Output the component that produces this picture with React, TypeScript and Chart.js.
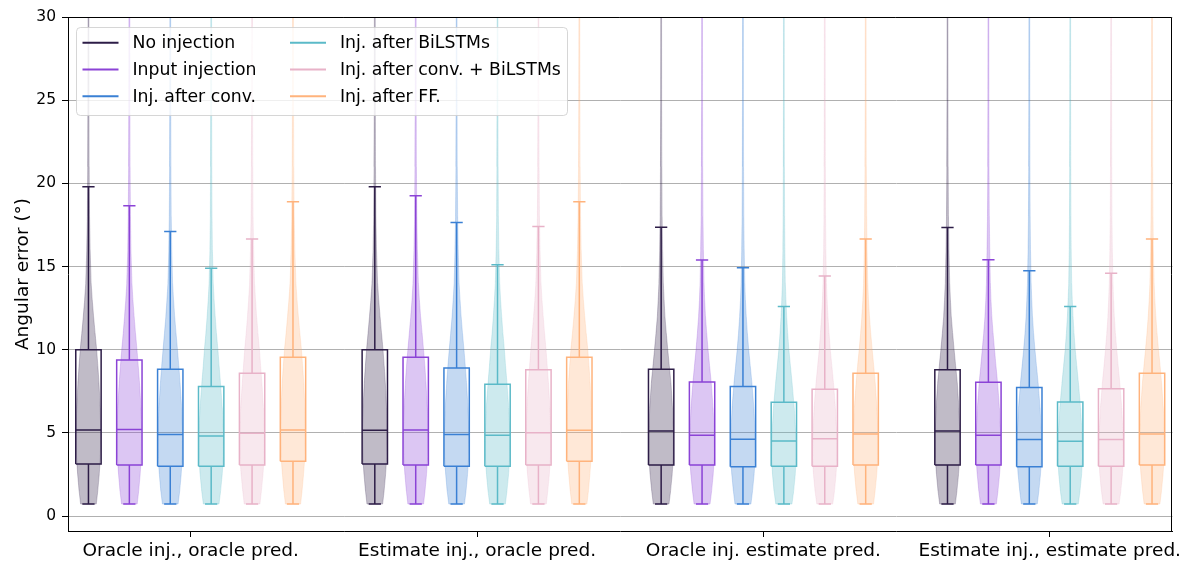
import React, { useEffect, useRef } from "react";
import { Chart, registerables } from "chart.js";

Chart.register(...registerables);

// ---------- data ----------
const GROUP_LABELS = [
  "Oracle inj., oracle pred.",
  "Estimate inj., oracle pred.",
  "Oracle inj. estimate pred.",
  "Estimate inj., estimate pred.",
];

const SERIES_NAMES = [
  "No injection",
  "Input injection",
  "Inj. after conv.",
  "Inj. after BiLSTMs",
  "Inj. after conv. + BiLSTMs",
  "Inj. after FF.",
];

const SERIES_COLORS = ["#2d1d47", "#8b43d6", "#3a80d4", "#5bbac8", "#e8b2c8", "#ffb37c"];

// per series, one value per group
const WHISKER_LOW = [
  [0.72, 0.72, 0.72, 0.72],
  [0.72, 0.72, 0.72, 0.72],
  [0.72, 0.72, 0.72, 0.72],
  [0.72, 0.72, 0.72, 0.72],
  [0.72, 0.72, 0.72, 0.72],
  [0.72, 0.72, 0.72, 0.72],
];
const Q1 = [
  [3.13, 3.13, 3.07, 3.07],
  [3.07, 3.07, 3.07, 3.07],
  [3.0, 3.0, 2.97, 2.97],
  [3.0, 3.0, 3.0, 3.0],
  [3.07, 3.07, 3.0, 3.0],
  [3.29, 3.29, 3.07, 3.07],
];
const MEDIAN = [
  [5.17, 5.15, 5.11, 5.11],
  [5.2, 5.17, 4.85, 4.85],
  [4.9, 4.9, 4.61, 4.6],
  [4.81, 4.85, 4.51, 4.5],
  [4.97, 5.0, 4.65, 4.6],
  [5.17, 5.15, 4.93, 4.93],
];
const Q3 = [
  [10.0, 10.0, 8.82, 8.8],
  [9.38, 9.55, 8.06, 8.04],
  [8.82, 8.9, 7.78, 7.73],
  [7.78, 7.92, 6.84, 6.85],
  [8.58, 8.8, 7.62, 7.65],
  [9.54, 9.55, 8.58, 8.58],
];
const WHISKER_HIGH = [
  [19.8, 19.8, 17.36, 17.35],
  [18.66, 19.25, 15.39, 15.4],
  [17.1, 17.65, 14.93, 14.75],
  [14.9, 15.1, 12.59, 12.6],
  [16.66, 17.4, 14.43, 14.6],
  [18.9, 18.9, 16.66, 16.66],
];

// violin density (relative width) at these error levels
const DENSITY_LEVELS = [0.72, 1.5, 2.5, 3.5, 5, 6.5, 8, 9, 10, 11, 12, 13, 14, 16, 18, 21, 25, 35];

const DENSITY_ORACLE_ORACLE = [
  [0.64, 0.76, 0.88, 0.97, 1.0, 0.96, 0.86, 0.77, 0.67, 0.54, 0.42, 0.31, 0.22, 0.14, 0.09, 0.06, 0.045, 0.03],
  [0.64, 0.76, 0.88, 0.97, 1.0, 0.95, 0.83, 0.73, 0.62, 0.5, 0.39, 0.29, 0.21, 0.13, 0.09, 0.06, 0.045, 0.03],
  [0.64, 0.77, 0.89, 0.98, 1.0, 0.93, 0.8, 0.7, 0.59, 0.47, 0.36, 0.27, 0.19, 0.12, 0.08, 0.055, 0.04, 0.03],
  [0.64, 0.77, 0.9, 0.99, 1.0, 0.91, 0.76, 0.65, 0.55, 0.43, 0.33, 0.24, 0.17, 0.1, 0.07, 0.05, 0.04, 0.03],
  [0.64, 0.76, 0.89, 0.98, 1.0, 0.93, 0.8, 0.7, 0.6, 0.48, 0.37, 0.28, 0.2, 0.13, 0.08, 0.055, 0.04, 0.03],
  [0.62, 0.74, 0.86, 0.96, 1.0, 0.97, 0.88, 0.79, 0.69, 0.56, 0.44, 0.33, 0.24, 0.15, 0.1, 0.065, 0.045, 0.03],
];
const DENSITY_ESTIMATE_ORACLE = [
  [0.64, 0.76, 0.88, 0.97, 1.0, 0.96, 0.86, 0.77, 0.67, 0.55, 0.43, 0.32, 0.23, 0.14, 0.09, 0.06, 0.045, 0.03],
  [0.64, 0.76, 0.88, 0.97, 1.0, 0.95, 0.84, 0.75, 0.64, 0.52, 0.4, 0.3, 0.22, 0.14, 0.09, 0.06, 0.045, 0.03],
  [0.64, 0.77, 0.89, 0.98, 1.0, 0.93, 0.81, 0.71, 0.6, 0.48, 0.37, 0.28, 0.2, 0.13, 0.085, 0.055, 0.04, 0.03],
  [0.64, 0.77, 0.9, 0.99, 1.0, 0.92, 0.77, 0.66, 0.56, 0.44, 0.34, 0.25, 0.18, 0.11, 0.07, 0.05, 0.04, 0.03],
  [0.64, 0.76, 0.89, 0.98, 1.0, 0.94, 0.82, 0.72, 0.62, 0.5, 0.39, 0.29, 0.21, 0.13, 0.085, 0.055, 0.04, 0.03],
  [0.62, 0.74, 0.86, 0.96, 1.0, 0.97, 0.88, 0.79, 0.69, 0.56, 0.44, 0.33, 0.24, 0.15, 0.1, 0.065, 0.045, 0.03],
];
const DENSITY_ORACLE_ESTIMATE = [
  [0.64, 0.77, 0.9, 0.99, 1.0, 0.93, 0.8, 0.67, 0.54, 0.42, 0.31, 0.24, 0.18, 0.12, 0.08, 0.055, 0.04, 0.03],
  [0.65, 0.78, 0.91, 1.0, 0.99, 0.9, 0.75, 0.62, 0.49, 0.38, 0.28, 0.21, 0.16, 0.11, 0.075, 0.05, 0.04, 0.03],
  [0.65, 0.78, 0.91, 1.0, 0.98, 0.89, 0.73, 0.6, 0.47, 0.36, 0.27, 0.2, 0.15, 0.1, 0.07, 0.05, 0.04, 0.03],
  [0.66, 0.8, 0.93, 1.0, 0.96, 0.85, 0.67, 0.54, 0.41, 0.31, 0.23, 0.17, 0.12, 0.08, 0.06, 0.045, 0.035, 0.03],
  [0.65, 0.79, 0.92, 1.0, 0.97, 0.87, 0.71, 0.58, 0.45, 0.35, 0.26, 0.19, 0.14, 0.09, 0.065, 0.05, 0.04, 0.03],
  [0.64, 0.77, 0.9, 0.99, 1.0, 0.92, 0.78, 0.66, 0.53, 0.41, 0.31, 0.23, 0.17, 0.11, 0.08, 0.055, 0.04, 0.03],
];
const DENSITY_ESTIMATE_ESTIMATE = [
  [0.64, 0.77, 0.9, 0.99, 1.0, 0.93, 0.8, 0.67, 0.54, 0.42, 0.31, 0.24, 0.18, 0.12, 0.08, 0.055, 0.04, 0.03],
  [0.65, 0.78, 0.91, 1.0, 0.99, 0.9, 0.75, 0.62, 0.5, 0.38, 0.28, 0.21, 0.16, 0.11, 0.075, 0.05, 0.04, 0.03],
  [0.65, 0.78, 0.91, 1.0, 0.98, 0.88, 0.72, 0.59, 0.46, 0.35, 0.26, 0.2, 0.15, 0.1, 0.07, 0.05, 0.04, 0.03],
  [0.66, 0.8, 0.93, 1.0, 0.96, 0.85, 0.67, 0.54, 0.41, 0.31, 0.23, 0.17, 0.12, 0.08, 0.06, 0.045, 0.035, 0.03],
  [0.65, 0.79, 0.92, 1.0, 0.97, 0.87, 0.71, 0.58, 0.46, 0.35, 0.26, 0.2, 0.15, 0.1, 0.07, 0.05, 0.04, 0.03],
  [0.64, 0.77, 0.9, 0.99, 1.0, 0.92, 0.78, 0.66, 0.53, 0.41, 0.31, 0.23, 0.17, 0.11, 0.08, 0.055, 0.04, 0.03],
];
const DENSITIES = [DENSITY_ORACLE_ORACLE, DENSITY_ESTIMATE_ORACLE, DENSITY_ORACLE_ESTIMATE, DENSITY_ESTIMATE_ESTIMATE];

const Y_TICKS = [0, 5, 10, 15, 20, 25, 30];

// ---------- styles ----------
const SLOT = SERIES_NAMES.length + 1; // positions per group incl. gap
const VIOLIN_HALF = 0.3;
const BOX_HALF = 0.31;
const CAP_HALF = 0.15;
const FONT = "'DejaVu Sans', 'Liberation Sans', sans-serif";

function rgba(hex: string, a: number) {
  const n = parseInt(hex.slice(1), 16);
  return `rgba(${(n >> 16) & 255}, ${(n >> 8) & 255}, ${n & 255}, ${a})`;
}

function buildDatasets() {
  const violins: any[] = [];
  const boxes: any[] = [];
  GROUP_LABELS.forEach((_, g) => {
    SERIES_NAMES.forEach((name, s) => {
      const pos = g * SLOT + s;
      const dens = DENSITIES[g][s];
      const left = DENSITY_LEVELS.map((lv, i) => ({ x: pos - dens[i] * VIOLIN_HALF, y: lv }));
      const right = DENSITY_LEVELS.map((lv, i) => ({ x: pos + dens[i] * VIOLIN_HALF, y: lv })).reverse();
      const color = SERIES_COLORS[s];
      violins.push({
        label: name,
        data: [...left, ...right, left[0]],
        showLine: true,
        fill: "shape",
        backgroundColor: rgba(color, 0.3),
        borderColor: rgba(color, 0.22),
        borderWidth: 1,
        pointRadius: 0,
        tension: 0.000001,
        order: 2,
      });
      const lo = WHISKER_LOW[s][g];
      const q1 = Q1[s][g];
      const md = MEDIAN[s][g];
      const q3 = Q3[s][g];
      const hi = WHISKER_HIGH[s][g];
      const gap = { x: pos, y: null };
      boxes.push({
        label: name,
        data: [
          { x: pos - BOX_HALF, y: q1 },
          { x: pos + BOX_HALF, y: q1 },
          { x: pos + BOX_HALF, y: q3 },
          { x: pos - BOX_HALF, y: q3 },
          { x: pos - BOX_HALF, y: q1 },
          gap,
          { x: pos - BOX_HALF, y: md },
          { x: pos + BOX_HALF, y: md },
          gap,
          { x: pos, y: q3 },
          { x: pos, y: hi },
          gap,
          { x: pos - CAP_HALF, y: hi },
          { x: pos + CAP_HALF, y: hi },
          gap,
          { x: pos, y: q1 },
          { x: pos, y: lo },
          gap,
          { x: pos - CAP_HALF, y: lo },
          { x: pos + CAP_HALF, y: lo },
        ],
        showLine: true,
        fill: false,
        spanGaps: false,
        borderColor: color,
        borderWidth: 1.5,
        borderJoinStyle: "miter",
        pointRadius: 0,
        tension: 0,
        order: 1,
      });
    });
  });
  return [...boxes, ...violins];
}

const framePlugin = {
  id: "frame",
  afterDatasetsDraw(chart: any) {
    const { ctx, chartArea } = chart;
    ctx.save();
    ctx.strokeStyle = "#000";
    ctx.lineWidth = 1;
    ctx.beginPath();
    const t = Math.round(chartArea.top) + 0.5;
    const r = Math.round(chartArea.right) - 0.5;
    ctx.moveTo(Math.round(chartArea.left), t);
    ctx.lineTo(r, t);
    ctx.lineTo(r, Math.round(chartArea.bottom));
    ctx.stroke();
    ctx.restore();
  },
};

const legendPlugin = {
  id: "mplLegend",
  afterDraw(chart: any) {
    const { ctx, chartArea } = chart;
    const x0 = chartArea.left + 8.5;
    const y0 = chartArea.top + 10.5;
    const w = 491;
    const h = 88;
    const r = 4;
    ctx.save();
    ctx.beginPath();
    ctx.moveTo(x0 + r, y0);
    ctx.lineTo(x0 + w - r, y0);
    ctx.arcTo(x0 + w, y0, x0 + w, y0 + r, r);
    ctx.lineTo(x0 + w, y0 + h - r);
    ctx.arcTo(x0 + w, y0 + h, x0 + w - r, y0 + h, r);
    ctx.lineTo(x0 + r, y0 + h);
    ctx.arcTo(x0, y0 + h, x0, y0 + h - r, r);
    ctx.lineTo(x0, y0 + r);
    ctx.arcTo(x0, y0, x0 + r, y0, r);
    ctx.closePath();
    ctx.fillStyle = "rgba(255,255,255,0.8)";
    ctx.fill();
    ctx.strokeStyle = "rgba(204,204,204,0.8)";
    ctx.lineWidth = 1;
    ctx.stroke();
    ctx.font = `17.3px ${FONT}`;
    ctx.textBaseline = "middle";
    ctx.textAlign = "left";
    SERIES_NAMES.forEach((name, i) => {
      const col = Math.floor(i / 3);
      const row = i % 3;
      const hx = x0 + 6 + col * 207.5;
      const yy = y0 + 15.3 + row * 26.7;
      ctx.strokeStyle = SERIES_COLORS[i];
      ctx.lineWidth = 2;
      ctx.beginPath();
      ctx.moveTo(hx, yy);
      ctx.lineTo(hx + 36, yy);
      ctx.stroke();
      ctx.fillStyle = "#000";
      ctx.fillText(name, hx + 50, yy + 1);
    });
    ctx.restore();
  },
};

export default function App() {
  const canvasRef = useRef<HTMLCanvasElement | null>(null);

  useEffect(() => {
    if (!canvasRef.current) return;
    Chart.defaults.font.family = FONT;
    const groupCenters = GROUP_LABELS.map((_, g) => g * SLOT + (SERIES_NAMES.length - 1) / 2);
    const chart = new Chart(canvasRef.current, {
      type: "scatter",
      data: { datasets: buildDatasets() as any },
      options: {
        responsive: false,
        animation: false,
        events: [],
        layout: { padding: { top: 17, right: 9, left: 0, bottom: 0 } },
        plugins: {
          legend: { display: false },
          tooltip: { enabled: false },
        },
        scales: {
          x: {
            type: "linear",
            min: -0.5,
            max: GROUP_LABELS.length * SLOT - 1.5,
            afterBuildTicks: (scale: any) => {
              scale.ticks = groupCenters.map((v) => ({ value: v }));
            },
            afterFit: (scale: any) => {
              scale.height = 31;
            },
            ticks: {
              callback: (_v: any, i: number) => GROUP_LABELS[i],
              font: { size: 18.5, family: FONT },
              color: "#000",
              padding: 3,
              maxRotation: 0,
              autoSkip: false,
            },
            grid: {
              drawOnChartArea: false,
              drawTicks: true,
              tickLength: 6,
              tickColor: "#000",
            },
            border: { display: true, color: "#000", width: 1 },
          },
          y: {
            type: "linear",
            min: -0.9,
            max: 30,
            afterBuildTicks: (scale: any) => {
              scale.ticks = Y_TICKS.map((v) => ({ value: v }));
            },
            afterFit: (scale: any) => {
              scale.width = 68;
            },
            ticks: {
              font: { size: 15.5, family: FONT },
              color: "#000",
              padding: 6,
            },
            grid: {
              color: "#b0b0b0",
              lineWidth: 1,
              drawTicks: true,
              tickLength: 6,
              tickColor: "#000",
            },
            border: { display: true, color: "#000", width: 1 },
            title: {
              display: true,
              text: "Angular error (°)",
              font: { size: 18.5, family: FONT },
              color: "#000",
              padding: { top: 12, bottom: 0 },
            },
          },
        },
      } as any,
      plugins: [framePlugin, legendPlugin],
    });
    return () => chart.destroy();
  }, []);

  return (
    <div style={{ position: "absolute", left: 0, top: 0, width: 1185, height: 562, background: "#fff" }}>
      <canvas ref={canvasRef} width={1185} height={562} style={{ display: "block" }} />
    </div>
  );
}
